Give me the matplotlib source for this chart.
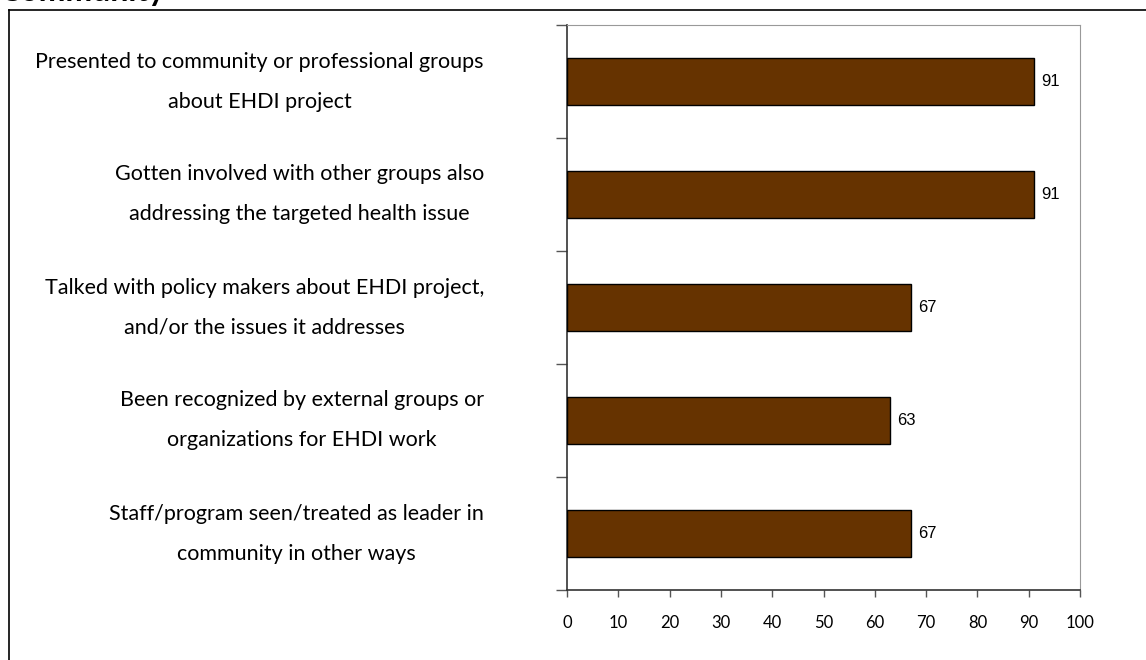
import matplotlib.pyplot as plt
import numpy as np
from matplotlib.lines import Line2D

plt.rcParams['font.family'] = ['Lato', 'DejaVu Sans']

labels = [
    "Presented to community or professional groups\nabout EHDI project",
    "Gotten involved with other groups also\naddressing the targeted health issue",
    "Talked with policy makers about EHDI project,\nand/or the issues it addresses",
    "Been recognized by external groups or\norganizations for EHDI work",
    "Staff/program seen/treated as leader in\ncommunity in other ways",
]
values = [91, 91, 67, 63, 67]
x_ticks = [0, 10, 20, 30, 40, 50, 60, 70, 80, 90, 100]

W, H = 1146, 660
fig = plt.figure(figsize=(W / 100, H / 100), dpi=100)
ax = fig.add_axes([567 / W, 1 - 590 / H, (1080 - 567) / W, (590 - 25) / H])

y = np.arange(len(values))
ax.barh(y, values, height=0.42, color='#663300', edgecolor='black', linewidth=1.0, zorder=3)
for yi, v in zip(y, values):
    ax.text(v + 1.4, yi, str(v), va='center', ha='left', fontsize=12,
            family='Liberation Sans', color='black')

ax.set_xlim(0, 100)
ax.set_ylim(len(values) - 0.5, -0.5)
ax.set_xticks(x_ticks)
ax.set_xticklabels([str(t) for t in x_ticks], fontsize=12)
ax.set_yticks(np.arange(len(values) + 1) - 0.5)
ax.set_yticklabels([])
ax.tick_params(axis='y', length=8, width=1, color='#555555', direction='out')
ax.tick_params(axis='x', length=5, width=1, color='#555555', direction='out', pad=13)

# category labels, centred lines, right edge left of the axis
for yi, lab in zip(y, labels):
    ax.text(-16.2, yi, lab, ha='right', va='center', multialignment='center',
            fontsize=15.5, linespacing=2.25)

ax.spines['left'].set_color('#333333')
ax.spines['bottom'].set_color('#333333')
ax.spines['left'].set_linewidth(1.2)
ax.spines['bottom'].set_linewidth(1.2)
ax.spines['top'].set_color('#999999')
ax.spines['right'].set_color('#999999')

# outer frame (only top/left visible)
fig.add_artist(Line2D([9 / W, 9 / W], [0, 1 - 10 / H], color='black', linewidth=1.2))
fig.add_artist(Line2D([9 / W, 1], [1 - 10 / H, 1 - 10 / H], color='black', linewidth=1.2))

# title mostly cut off at the top edge, as in the source page
fig.text(0.0, 1 - 1.5 / H, "Community", fontsize=23, fontweight='bold', va='baseline', ha='left')

fig.savefig('out.png', dpi=100)
